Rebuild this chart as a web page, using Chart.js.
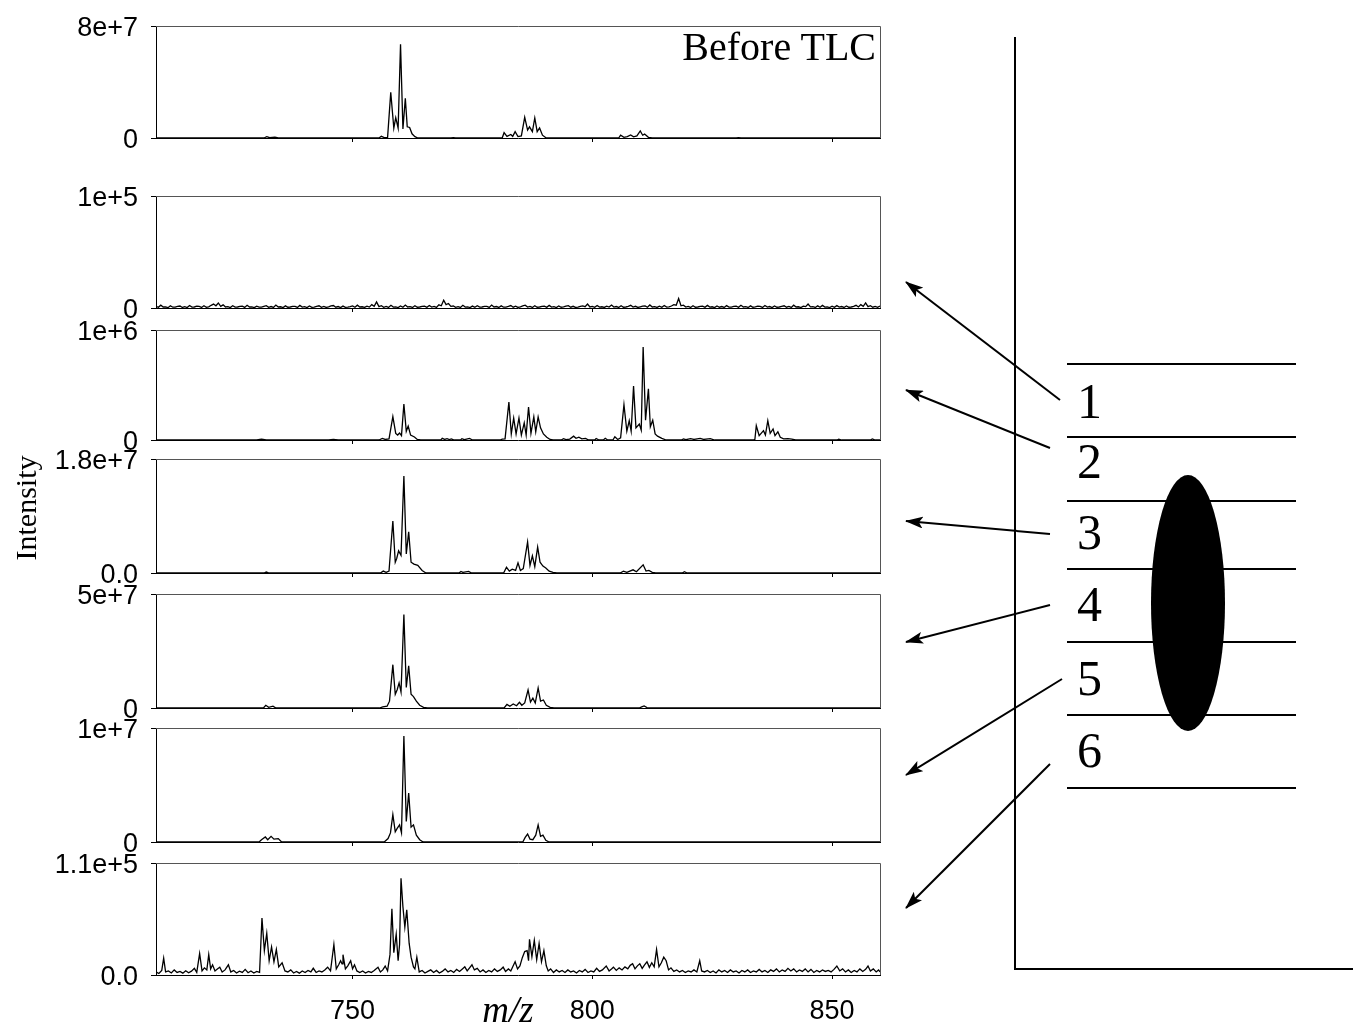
<!DOCTYPE html>
<html>
<head>
<meta charset="utf-8">
<script src="https://cdn.jsdelivr.net/npm/chart.js@4.4.1/dist/chart.umd.min.js"></script>
<style>
  html, body { margin: 0; padding: 0; background: #fff; }
  #stage { position: relative; width: 1353px; height: 1025px; overflow: hidden; }
  #stage canvas { position: absolute; left: 0; }
  #overlay { position: absolute; left: 0; top: 0; z-index: 2; }
  .serif { font-family: "Liberation Serif", "Times New Roman", serif; }
</style>
</head>
<body>
<div id="stage">
  <svg id="overlay" width="1353" height="1025" xmlns="http://www.w3.org/2000/svg">
    <defs>
      <marker id="head" viewBox="0 0 18 12" refX="17" refY="6" markerWidth="18" markerHeight="12" markerUnits="userSpaceOnUse" orient="auto">
        <path d="M0,0 L18,6 L0,12 L4,6 z" fill="#000"/>
      </marker>
    </defs>
    <text class="serif" x="876" y="60" font-size="40" text-anchor="end">Before TLC</text>
    <text class="serif" x="0" y="0" font-size="30" text-anchor="middle" transform="translate(36,508) rotate(-90)">Intensity</text>
    <text class="serif" x="508" y="1022" font-size="37" font-style="italic" text-anchor="middle">m/z</text>

    <!-- TLC plate -->
    <path d="M1015,37 L1015,969 L1353,969" fill="none" stroke="#000" stroke-width="2"/>
    <g stroke="#000" stroke-width="2">
      <line x1="1067" y1="364" x2="1296" y2="364"/>
      <line x1="1067" y1="437" x2="1296" y2="437"/>
      <line x1="1067" y1="501" x2="1296" y2="501"/>
      <line x1="1067" y1="569" x2="1296" y2="569"/>
      <line x1="1067" y1="642" x2="1296" y2="642"/>
      <line x1="1067" y1="715" x2="1296" y2="715"/>
      <line x1="1067" y1="788" x2="1296" y2="788"/>
    </g>
    <ellipse cx="1188" cy="603" rx="37" ry="128" fill="#000"/>
    <g class="serif" font-size="50">
      <text x="1077" y="418">1</text>
      <text x="1077" y="478">2</text>
      <text x="1077" y="549">3</text>
      <text x="1077" y="621">4</text>
      <text x="1077" y="695">5</text>
      <text x="1077" y="767">6</text>
    </g>
    <g stroke="#000" stroke-width="2" marker-end="url(#head)">
      <line x1="1060" y1="400" x2="906" y2="282"/>
      <line x1="1050" y1="448" x2="906" y2="390"/>
      <line x1="1050" y1="534" x2="906" y2="521"/>
      <line x1="1050" y1="605" x2="906" y2="642"/>
      <line x1="1062" y1="679" x2="906" y2="775"/>
      <line x1="1050" y1="764" x2="906" y2="908"/>
    </g>
  </svg>
</div>
<script>
// m/z axis
const mzRange = [709, 860];
const mzTicks = [750, 800, 850];

// y axis per panel (top to bottom)
const yMax = [8e7, 1e5, 1e6, 1.8e7, 5e7, 1e7, 1.1e5];
const yTickLabels = [
  ["0", "8e+7"], ["0", "1e+5"], ["0", "1e+6"], ["0.0", "1.8e+7"],
  ["0", "5e+7"], ["0", "1e+7"], ["0.0", "1.1e+5"]
];

// spectra as [m/z, intensity]
const specBefore = [
  [709,0],[731.5,0],[732.1,1.0e6],[732.7,2e5],[733.8,6e5],[734.5,0],
  [755.5,0],[756.0,1.2e6],[756.6,3e5],[757.3,5e5],[757.96,3.26e7],[758.6,7e6],[759.0,1.45e7],[759.5,7e6],
  [760.0,6.7e7],[760.5,6.5e6],[761.0,2.84e7],[761.4,8e6],[761.9,7.5e6],[762.4,3e6],[763.0,1e6],[763.6,0],
  [770.5,0],[771,3e5],[771.5,0],
  [781.2,0],[781.6,3.8e6],[782.2,1.2e6],[783.0,2.5e6],[783.4,1.2e6],[783.9,4.5e6],[784.5,1e6],[785.2,1.5e6],
  [785.9,1.48e7],[786.5,5.7e6],[786.9,8e6],[787.5,4.5e6],[788.0,1.43e7],[788.5,4.5e6],[789.0,7.2e6],[789.6,2e6],[790.4,0],
  [805.5,0],[805.9,2e6],[806.6,5e5],[807.3,1e6],[808.0,2.2e6],[808.6,8e5],[809.3,1.5e6],[810.0,5e6],[810.5,2e6],
  [810.9,2.8e6],[811.7,5e5],[812.5,0],[830,0],[830.5,3e5],[831,0],[860,0]
];

const specSpot1 = [
  [709,1500],[709.5,600],[710,2500],[710.5,900],[711,1000],[711.5,300],[712,2000],[712.5,700],[713,800],[713.5,1500],
  [714,1800],[714.5,500],[715,1200],[715.5,400],[716,2200],[716.5,800],[717,900],[717.5,1600],[718,1400],[718.5,500],
  [719,2000],[719.5,700],[720,1100],[720.5,2400],[721,3500],[721.5,2000],[722,4500],[722.5,1500],[723,2800],[723.5,900],
  [724,1200],[724.5,400],[725,2000],[725.5,800],[726,900],[726.5,1400],[727,1700],[727.5,500],[728,2400],[728.5,900],
  [729,1000],[729.5,300],[730,1600],[730.5,700],[731,800],[731.5,1500],[732,2100],[732.5,600],[733,1300],[733.5,500],
  [734,2600],[734.5,900],[735,1100],[735.5,400],[736,1900],[736.5,700],[737,900],[737.5,1500],[738,1500],[738.5,500],
  [739,2300],[739.5,800],[740,1200],[740.5,400],[741,1800],[741.5,600],[742,700],[742.5,1400],[743,2000],[743.5,600],
  [744,1400],[744.5,500],[745,1000],[745.5,1800],[746,2200],[746.5,700],[747,1300],[747.5,400],[748,1700],[748.5,600],
  [749,800],[749.5,1300],[750,1900],[750.5,700],[751,2500],[751.5,900],[752,1100],[752.5,500],[753,1600],[753.5,800],
  [754,3000],[754.5,1500],[755,5500],[755.5,1200],[756,2000],[756.5,600],[757,1400],[757.5,500],[758,2400],[758.5,800],
  [759,1000],[759.5,400],[760,1800],[760.5,700],[761,2600],[761.5,900],[762,1200],[762.5,500],[763,2000],[763.5,700],
  [764,900],[764.5,1500],[765,1600],[765.5,600],[766,2200],[766.5,800],[767,1400],[767.5,500],[768,2800],[768.5,2000],
  [769,7000],[769.5,3000],[770,4000],[770.5,1500],[771,1800],[771.5,600],[772,1200],[772.5,500],[773,2400],[773.5,800],
  [774,1000],[774.5,400],[775,1700],[775.5,700],[776,2100],[776.5,800],[777,900],[777.5,1500],[778,1500],[778.5,500],
  [779,2600],[779.5,900],[780,1300],[780.5,500],[781,1900],[781.5,700],[782,800],[782.5,1400],[783,2200],[783.5,700],
  [784,1600],[784.5,500],[785,1100],[785.5,1800],[786,2500],[786.5,800],[787,1400],[787.5,500],[788,2000],[788.5,700],
  [789,900],[789.5,1500],[790,1700],[790.5,600],[791,2300],[791.5,800],[792,1200],[792.5,400],[793,1800],[793.5,700],
  [794,1000],[794.5,1600],[795,2100],[795.5,700],[796,1500],[796.5,500],[797,800],[797.5,1400],[798,1900],[798.5,1200],
  [799,3500],[799.5,900],[800,1400],[800.5,600],[801,2200],[801.5,800],[802,1100],[802.5,500],[803,1700],[803.5,900],
  [804,2600],[804.5,800],[805,1300],[805.5,500],[806,2000],[806.5,700],[807,900],[807.5,1500],[808,2400],[808.5,800],
  [809,1500],[809.5,500],[810,1100],[810.5,1700],[811,1900],[811.5,700],[812,2700],[812.5,900],[813,1200],[813.5,500],
  [814,1600],[814.5,600],[815,2200],[815.5,800],[816,1000],[816.5,1800],[817,3000],[817.5,2500],[818,8500],[818.5,2000],
  [819,2500],[819.5,800],[820,1400],[820.5,500],[821,2000],[821.5,700],[822,900],[822.5,1500],[823,1700],[823.5,600],
  [824,2300],[824.5,800],[825,1100],[825.5,400],[826,1800],[826.5,700],[827,1300],[827.5,500],[828,2100],[828.5,800],
  [829,800],[829.5,1400],[830,1600],[830.5,600],[831,2400],[831.5,900],[832,1200],[832.5,500],[833,1900],[833.5,700],
  [834,1000],[834.5,1600],[835,1500],[835.5,500],[836,2200],[836.5,800],[837,1300],[837.5,400],[838,1800],[838.5,700],
  [839,900],[839.5,1500],[840,2000],[840.5,700],[841,1400],[841.5,500],[842,2500],[842.5,900],[843,1100],[843.5,400],
  [844,1700],[844.5,1200],[845,3500],[845.5,1000],[846,1200],[846.5,500],[847,1900],[847.5,700],[848,2300],[848.5,800],
  [849,1000],[849.5,400],[850,1600],[850.5,600],[851,2100],[851.5,800],[852,1300],[852.5,500],[853,1800],[853.5,700],
  [854,900],[854.5,1500],[855,2400],[855.5,900],[856,3000],[856.5,1500],[857,4500],[857.5,1200],[858,2000],[858.5,700],
  [859,1400],[859.5,600],[860,1800]
];

const specSpot2 = [
  [709,0],[730,0],[731,8000],[732,0],[745,0],[746,6000],[747,0],
  [755.5,0],[756.2,15000],[756.8,5000],[757.6,10000],
  [758.4,212000],[759.0,60000],[759.4,45000],[759.8,64000],[760.2,40000],[760.7,327000],[761.2,80000],[761.6,127000],
  [762.1,45000],[762.9,27000],[763.5,5000],[764.2,0],
  [768.4,0],[768.7,15000],[769.2,5000],[769.7,12000],[770.2,4000],[770.6,10000],[771.2,0],
  [772.5,0],[772.8,12000],[773.3,3000],[774.4,14000],[775,0],
  [780.8,0],[781.2,8000],[781.8,10000],
  [782.6,345000],[783.1,55000],[783.6,200000],[784.1,55000],[784.7,200000],[785.2,45000],[785.8,155000],[786.2,45000],
  [786.7,300000],[787.2,60000],[787.8,210000],[788.2,75000],[788.7,210000],[789.2,110000],[789.8,55000],[790.5,25000],
  [791.2,5000],[791.8,0],
  [793.5,0],[794.0,12000],[794.5,3000],[795.3,8000],[796.1,35000],[796.6,15000],[797.2,25000],[797.8,10000],
  [798.6,15000],[799.2,0],[800.5,0],[800.8,14000],[801.4,0],[802.3,0],[802.7,16000],[803.2,0],
  [804.3,0],[804.7,30000],[805.3,5000],[805.9,20000],
  [806.6,320000],[807.2,80000],[807.7,175000],[808.1,80000],[808.6,490000],[809.1,110000],[809.8,145000],[810.2,90000],
  [810.6,845000],[811.1,180000],[811.7,465000],[812.1,120000],[812.6,180000],[813.1,55000],[813.6,35000],[814.5,15000],[815.4,0],
  [818.6,0],[819,10000],[819.5,3000],[820.5,12000],[821.2,5000],[822.5,15000],[823.2,5000],[824.6,12000],[825.5,0],
  [833.5,0],[833.9,5000],[834.2,130000],[834.8,40000],[835.7,85000],[836.1,45000],[836.6,175000],[837.1,60000],
  [837.7,100000],[838.1,40000],[838.7,75000],[839.2,25000],[839.9,10000],[840.8,12000],[841.6,8000],[842.4,0],
  [851,0],[851.4,8000],[852,0],[858,0],[858.4,10000],[859,0],[860,0]
];

const specSpot3 = [
  [709,0],[731.5,0],[732,1.5e5],[732.6,0],
  [755.8,0],[756.4,3e5],[757,1e5],[757.6,3e5],
  [758.4,8.2e6],[758.9,1.7e6],[759.2,2.3e6],[759.6,3.5e6],[760.1,2.8e6],[760.7,1.53e7],[761.2,3e6],[761.7,6.5e6],
  [762.2,1.7e6],[762.8,1.4e6],[763.6,1.2e6],[764.5,4e5],[765.3,0],
  [772.2,0],[772.6,2.5e5],[773,1e5],[774.2,2.5e5],[774.8,0],
  [781.5,0],[782.1,9e5],[782.7,3e5],[783.3,6e5],[784,4e5],[784.5,1.6e6],[785,4e5],[785.6,7e5],[786.5,4.9e6],
  [787,1.2e6],[787.5,2.7e6],[788,1e6],[788.6,4.1e6],[789.1,1.7e6],[789.7,1.1e6],[790.3,8e5],[791,3e5],[791.8,1e5],[792.6,0],
  [805.8,0],[806.5,3e5],[807.2,1e5],[808.5,5e5],[809.2,2e5],[810.6,1.3e6],[811.2,3e5],[811.8,4e5],[812.5,1e5],[813.2,0],
  [818.8,0],[819.2,2e5],[819.8,0],[860,0]
];

const specSpot4 = [
  [709,0],[731.4,0],[731.9,1.2e6],[732.5,3e5],[733.4,8e5],[734,0],
  [755.6,0],[756.3,5e5],[757.2,8e5],[757.7,3e6],
  [758.4,1.9e7],[758.9,6e6],[759.3,8e6],[759.7,1.1e7],[760.1,7e6],[760.7,4.1e7],[761.2,9e6],[761.7,1.85e7],
  [762.2,6e6],[762.7,5e6],[763.3,3e6],[764,1.2e6],[764.8,3e5],[765.6,0],
  [781.6,0],[782.2,1.6e6],[782.8,8e5],[783.5,1.8e6],[784.2,1e6],[784.8,2.5e6],[785.3,1.2e6],[785.9,2.2e6],
  [786.6,7.9e6],[787.1,2.6e6],[787.6,4.3e6],[788.1,2.2e6],[788.7,8.8e6],[789.2,3e6],[789.8,3.5e6],[790.4,1.2e6],
  [791.2,3e5],[792,0],
  [809.8,0],[810.3,5e5],[810.8,9e5],[811.4,2e5],[812,0],[860,0]
];

const specSpot5 = [
  [709,0],[730.5,0],[731,2e5],[731.8,4.4e5],[732.3,2e5],[733,5e5],[733.6,2.5e5],[734.5,3e5],[735.2,0],
  [756.6,0],[757.4,3e5],[757.9,8e5],
  [758.4,2.4e6],[758.9,9e5],[759.3,1.2e6],[759.8,1.5e6],[760.2,8e5],[760.7,9.3e6],[761.2,1.8e6],[761.7,4.3e6],
  [762.2,1.3e6],[762.7,1.5e6],[763.3,6e5],[764,2e5],[764.7,0],
  [785.5,0],[786,4e5],[786.5,7e5],[787,2.5e5],[787.6,2e5],[788.2,6e5],[788.7,1.5e6],[789.2,5e5],[789.7,6e5],
  [790.3,1.5e5],[791,0],[860,0]
];

const specSpot6 = [
  [709,3000],[709.6,1500],[710.2,4500],[710.6,16500],[711.0,3000],[711.6,4000],[712.2,2000],[712.8,5000],[713.4,2500],
  [714,3500],[714.6,1800],[715.2,4200],[715.8,2200],[716.4,3800],[717.0,6500],[717.5,2500],[718.1,21000],[718.6,4000],
  [719.1,7000],[719.6,5000],[720.0,20000],[720.4,6000],[720.8,10000],[721.3,4000],[721.8,6000],[722.3,7700],[722.8,3000],
  [723.4,5000],[724.1,10000],[724.6,3000],[725.2,4500],[725.8,2000],[726.4,3800],[727,2500],[727.6,5500],[728.2,2200],
  [728.8,4000],[729.4,2000],[730,3500],[730.6,2500],
  [731.1,56000],[731.6,24000],[732.1,41000],[732.6,14000],[733.1,27500],[733.6,13000],[734.1,25000],[734.6,8000],
  [735.3,12000],[735.9,4000],[736.5,3000],[737.1,5000],[737.7,2000],[738.3,3500],[738.9,1800],[739.5,4000],[740.1,2500],
  [740.7,4500],[741.3,3000],[741.8,6600],[742.4,2500],[743,4000],[743.6,3000],[744.2,5000],[744.8,7700],[745.4,4000],
  [746.1,30000],[746.6,6000],[747.1,10000],[747.5,14000],[747.8,11000],[748.0,20000],[748.5,6000],[749.0,9000],
  [749.6,14000],[750.0,6000],[750.4,10000],[750.9,4000],[751.5,2500],[752.1,4000],[752.7,2000],[753.3,3500],[753.9,2500],
  [754.5,4500],[755.3,7700],[755.8,3000],[756.3,5000],[756.8,8800],[757.3,4000],
  [757.8,20000],[758.2,65000],[758.6,22000],[759.1,40000],[759.5,14000],[759.8,30000],[760.1,95000],[760.5,67000],
  [760.9,47000],[761.3,64000],[761.8,31000],[762.2,17500],[762.7,8000],[763.0,6000],[763.4,17500],[763.9,3000],
  [764.5,4500],[765.1,2000],[765.7,3500],[766.3,5000],[766.9,2500],[767.5,4500],[768.1,2000],[768.7,3500],[769.3,6000],
  [769.9,3000],[770.5,4500],[771.1,2500],[771.7,5500],[772.3,3500],[772.9,6000],[773.4,8000],[773.9,4000],[774.4,7000],
  [774.9,10000],[775.4,5000],[776,6500],[776.6,3000],[777.2,5000],[777.8,2500],[778.4,4500],[779,3000],[779.6,6000],
  [780.2,3500],[780.8,5000],[781.4,7700],[781.9,3500],[782.5,6000],[783.0,4000],[783.5,9000],[783.9,13000],[784.4,6000],
  [784.9,9000],
  [785.4,17000],[785.9,23000],[786.4,24000],[786.7,14000],[786.9,35000],[787.4,18000],[787.9,34000],[788.4,15000],
  [788.9,31000],[789.4,13000],[789.9,24000],[790.4,9000],[790.8,4000],[791.3,6000],[791.9,2500],[792.5,5000],
  [793.1,3000],[793.7,4500],[794.3,2500],[794.9,5000],[795.5,3000],[796.1,4000],[796.7,2000],[797.3,4500],[797.9,3000],
  [798.5,5500],[799.1,2500],[799.7,4000],[800.3,3000],[800.9,6600],[801.5,3500],[802.1,5000],[802.9,8800],[803.5,4000],
  [804.0,6000],[804.4,7700],[805,4500],[805.6,7000],[806.2,5000],[806.8,8000],[807.4,6000],[807.9,9500],[808.4,11000],
  [808.9,6000],[809.4,9000],[809.9,11000],[810.4,6500],[810.9,10000],[811.4,13000],[811.9,7500],[812.4,12000],
  [812.9,8000],
  [813.4,25000],[813.9,8000],[814.4,12000],[814.9,17500],[815.4,14000],[815.9,5000],[816.4,7000],[817,3500],[817.6,5000],
  [818.2,3000],[818.8,4500],[819.4,2500],[820,4000],[820.6,3000],[821.2,5000],[821.8,3000],[822.4,14000],[822.8,4000],
  [823.4,3000],[824,4500],[824.6,2500],[825.2,4000],[825.8,2000],[826.4,5000],[827,3000],[827.6,4500],[828.2,2500],
  [828.8,5000],[829.4,3000],[830,4000],[830.6,2000],[831.2,4500],[831.8,3000],[832.4,5000],[833,2500],[833.6,4000],
  [834.2,3000],[834.8,5500],[835.4,3000],[836,4500],[836.6,2500],[837.2,5000],[837.8,3500],[838.4,6000],[839,3000],
  [839.6,5000],[840.2,3500],[840.8,6500],[841.4,4000],[842,6000],[842.6,3000],[843.2,5000],[843.8,3500],[844.4,6000],
  [845,3000],[845.6,5500],[846.2,2500],[846.8,4500],[847.4,3000],[848,5000],[848.6,3500],[849.2,4500],[849.8,3000],
  [850.4,5500],[851,8800],[851.6,4000],[852.2,6000],[852.8,3000],[853.4,5000],[854,2500],[854.6,4500],[855.2,3000],
  [855.8,6000],[856.4,3500],[857,5500],[857.5,8800],[858,4000],[858.6,6000],[859.2,3000],[859.7,5000],[860,3000]
];

const spectra = [specBefore, specSpot1, specSpot2, specSpot3, specSpot4, specSpot5, specSpot6];

// layout of the stacked panels (plot area top/bottom in px)
const panelTop = [26, 196, 330, 459, 594, 728, 863];
const panelBottom = [138, 308, 440, 573, 708, 842, 975];

Chart.defaults.font.family = "'Liberation Sans Narrow', 'Liberation Sans', Arial, sans-serif";
Chart.defaults.color = "#000";

const frame = {
  id: "frame",
  afterDraw(chart) {
    const { ctx, chartArea: a } = chart;
    ctx.save();
    ctx.strokeStyle = "#555";
    ctx.lineWidth = 1;
    ctx.beginPath();
    ctx.moveTo(a.left, Math.round(a.top) + 0.5);
    ctx.lineTo(Math.round(a.right) + 0.5, Math.round(a.top) + 0.5);
    ctx.lineTo(Math.round(a.right) + 0.5, a.bottom);
    ctx.stroke();
    ctx.restore();
  }
};

// drop the label overhang padding so the plot box lands exactly where asked
function noPad(s) {
  s.paddingTop = 0; s.paddingBottom = 0; s.paddingLeft = 0; s.paddingRight = 0;
}

const stage = document.getElementById("stage");

spectra.forEach((spec, i) => {
  const last = i === spectra.length - 1;
  const padTop = 20;
  const xH = last ? 50 : 18;
  const cv = document.createElement("canvas");
  cv.width = 900;
  cv.height = panelBottom[i] - panelTop[i] + padTop + xH;
  cv.style.top = (panelTop[i] - padTop) + "px";
  stage.insertBefore(cv, stage.firstChild);

  new Chart(cv, {
    type: "line",
    data: {
      datasets: [{
        data: spec.map(([x, y]) => ({ x, y })),
        borderColor: "#000",
        borderWidth: 1.3,
        pointRadius: 0,
        tension: 0,
        fill: false,
      }],
    },
    options: {
      responsive: false,
      animation: false,
      events: [],
      layout: { padding: { top: padTop, right: 20, left: 0, bottom: 0 } },
      plugins: { legend: { display: false }, tooltip: { enabled: false } },
      scales: {
        x: {
          type: "linear",
          min: mzRange[0],
          max: mzRange[1],
          afterBuildTicks: (s) => { s.ticks = mzTicks.map((v) => ({ value: v })); },
          afterFit: (s) => { s.height = xH; noPad(s); },
          grid: { drawOnChartArea: false, tickLength: 4, color: "#000" },
          border: { color: "#000", width: 1 },
          ticks: { display: last, padding: 16, font: { size: 27 }, maxRotation: 0 },
        },
        y: {
          min: 0,
          max: yMax[i],
          afterBuildTicks: (s) => { s.ticks = [{ value: 0 }, { value: yMax[i] }]; },
          afterFit: (s) => { s.width = 156; noPad(s); },
          grid: { drawOnChartArea: false, tickLength: 5, color: "#000" },
          border: { color: "#000", width: 1 },
          ticks: { padding: 13, labelOffset: 3, font: { size: 27 }, callback: (v, idx) => yTickLabels[i][idx] },
        },
      },
    },
    plugins: [frame],
  });
});
</script>
</body>
</html>
